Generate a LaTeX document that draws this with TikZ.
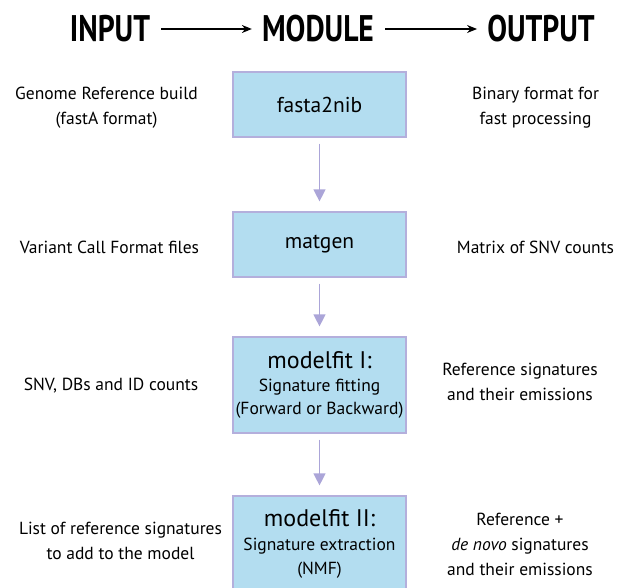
\documentclass[tikz,border=0pt]{standalone}
\usepackage{fontspec}
\setmainfont{PT Sans}
\newfontfamily\headfont[FakeStretch=0.8]{PT Sans}
\usetikzlibrary{arrows.meta}

\definecolor{boxblue}{HTML}{B3DDF0}
\definecolor{boxline}{HTML}{B4AFDC}
\definecolor{flowline}{HTML}{ABA5D8}

\tikzset{
  modbox/.style={draw=boxline, fill=boxblue, line width=1.2pt, minimum width=173pt, align=center, inner sep=0pt, font=\fontsize{17.5}{24}\selectfont},
  sidetext/.style={align=center, font=\fontsize{17.5}{25}\selectfont},
  headtext/.style={font=\headfont\bfseries\fontsize{37}{40}\selectfont, inner sep=0pt},
  flowarrow/.style={draw=flowline, line width=1.3pt, -{Triangle[width=12pt,length=12pt]}, shorten <=6pt, shorten >=10pt},
  headarrow/.style={black, line width=1.2pt, -{Stealth[width=8pt,length=10pt]}, shorten <=11pt, shorten >=10pt}
}

\begin{document}
\begin{tikzpicture}[x=1pt, y=-1pt]
\useasboundingbox (0,0) rectangle (618,588);

% header
\node (input) at (110,29) [headtext] {INPUT};
\node (module) at (318,29) [headtext] {MODULE};
\node (output) at (541,29) [headtext] {OUTPUT};
\draw [headarrow] (input) -- (module);
\draw [headarrow] (module) -- (output);

% modules
\node (fasta) at (319.5,104.5) [modbox, minimum height=65pt] {{\fontsize{21.5}{25}\selectfont fasta2nib}};
\node (matgen) at (319.5,244.5) [modbox, minimum height=65pt] {{\fontsize{21.5}{25}\selectfont matgen}};
\node (fitone) at (319.5,385) [modbox, minimum height=96pt]
  {{\fontsize{24}{24}\selectfont modelfit I:}\\[-1pt]
   Signature fitting\\[-1pt]
   (Forward or Backward)};
\node (fittwo) at (319.5,543.5) [modbox, minimum height=95pt]
  {{\fontsize{24}{24}\selectfont modelfit II:}\\
   Signature extraction\\
   (NMF)};

\draw [flowarrow] (fasta) -- (matgen);
\draw [flowarrow] (matgen) -- (fitone);
\draw [flowarrow] (fitone) -- (fittwo);

% inputs
\node (in1) at (106.5,108) [sidetext] {Genome Reference build\\(fastA format)};
\node (in2) at (109.5,247) [sidetext] {Variant Call Format files};
\node (in3) at (111,386) [sidetext] {SNV, DBs and ID counts};
\node (in4) at (120.5,541) [sidetext] {List of reference signatures\\to add to the model};

% outputs
\node (out1) at (535.5,108) [sidetext] {Binary format for\\fast processing};
\node (out2) at (535.5,247) [sidetext] {Matrix of SNV counts};
\node (out3) at (520,381.5) [sidetext] {Reference signatures\\and their emissions};
\node (out4) at (520,544.5) [sidetext] {Reference +\\\textit{de novo} signatures\\and their emissions};

\end{tikzpicture}
\end{document}
